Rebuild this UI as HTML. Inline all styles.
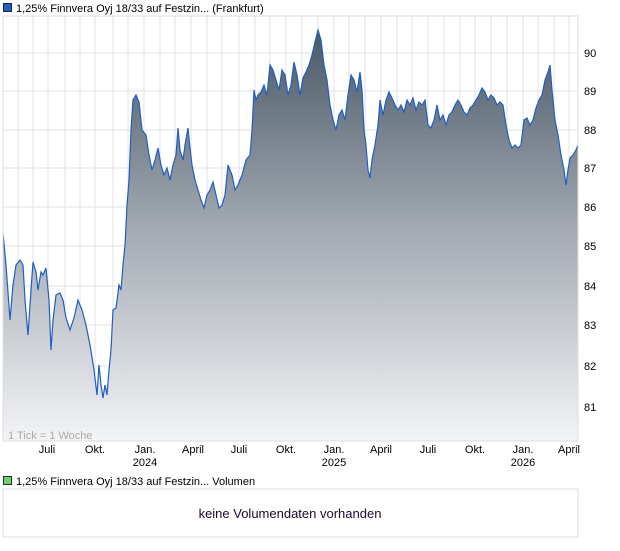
<!DOCTYPE html>
<html><head><meta charset="utf-8"><style>
body{margin:0;background:#fff;width:620px;height:546px;overflow:hidden;font-family:"Liberation Sans",sans-serif}
</style></head><body>
<svg width="620" height="546" xmlns="http://www.w3.org/2000/svg" font-family="Liberation Sans, sans-serif">
<defs>
<linearGradient id="g" gradientUnits="userSpaceOnUse" x1="0" y1="20" x2="0" y2="441">
<stop offset="0" stop-color="#455563"/>
<stop offset="0.5" stop-color="#a3aab2"/>
<stop offset="1" stop-color="#f3f4f6"/>
</linearGradient>
</defs>
<rect x="3" y="16" width="575" height="425" fill="#fff" stroke="#ddd"/>
<g stroke="#e0e0e0" stroke-width="1">
<line x1="3" x2="578" y1="53" y2="53"/><line x1="3" x2="578" y1="91" y2="91"/><line x1="3" x2="578" y1="130" y2="130"/><line x1="3" x2="578" y1="168" y2="168"/><line x1="3" x2="578" y1="207" y2="207"/><line x1="3" x2="578" y1="246" y2="246"/><line x1="3" x2="578" y1="286" y2="286"/><line x1="3" x2="578" y1="325" y2="325"/><line x1="3" x2="578" y1="366" y2="366"/><line x1="3" x2="578" y1="407" y2="407"/>
<line x1="18" x2="18" y1="16" y2="441"/><line x1="33" x2="33" y1="16" y2="441"/><line x1="48" x2="48" y1="16" y2="441"/><line x1="65" x2="65" y1="16" y2="441"/><line x1="80" x2="80" y1="16" y2="441"/><line x1="95" x2="95" y1="16" y2="441"/><line x1="113" x2="113" y1="16" y2="441"/><line x1="128" x2="128" y1="16" y2="441"/><line x1="144" x2="144" y1="16" y2="441"/><line x1="160" x2="160" y1="16" y2="441"/><line x1="175" x2="175" y1="16" y2="441"/><line x1="191" x2="191" y1="16" y2="441"/><line x1="207" x2="207" y1="16" y2="441"/><line x1="222" x2="222" y1="16" y2="441"/><line x1="239" x2="239" y1="16" y2="441"/><line x1="255" x2="255" y1="16" y2="441"/><line x1="270" x2="270" y1="16" y2="441"/><line x1="286" x2="286" y1="16" y2="441"/><line x1="302" x2="302" y1="16" y2="441"/><line x1="318" x2="318" y1="16" y2="441"/><line x1="334" x2="334" y1="16" y2="441"/><line x1="349" x2="349" y1="16" y2="441"/><line x1="365" x2="365" y1="16" y2="441"/><line x1="381" x2="381" y1="16" y2="441"/><line x1="397" x2="397" y1="16" y2="441"/><line x1="412" x2="412" y1="16" y2="441"/><line x1="428" x2="428" y1="16" y2="441"/><line x1="444" x2="444" y1="16" y2="441"/><line x1="460" x2="460" y1="16" y2="441"/><line x1="475" x2="475" y1="16" y2="441"/><line x1="491" x2="491" y1="16" y2="441"/><line x1="507" x2="507" y1="16" y2="441"/><line x1="523" x2="523" y1="16" y2="441"/><line x1="538" x2="538" y1="16" y2="441"/><line x1="554" x2="554" y1="16" y2="441"/><line x1="569" x2="569" y1="16" y2="441"/>
</g>
<path id="p" d="M3,233 L6,265 L10,320 L13,285 L16,265 L20,260 L23,265 L25,300 L28,335 L31,290 L33,262 L36,272 L38,290 L41,272 L43,275 L46,268 L49,300 L51,350 L53,320 L56,295 L60,293 L63,300 L66,318 L70,330 L74,318 L78,300 L82,310 L86,325 L90,345 L94,370 L97,395 L99,365 L101,385 L103,398 L105,385 L107,395 L109,370 L111,350 L113,310 L116,308 L119,285 L121,290 L123,265 L125,245 L127,205 L129,180 L131,130 L133,100 L136,95 L139,102 L142,130 L146,135 L149,155 L152,170 L155,160 L158,148 L161,165 L164,175 L167,168 L170,180 L173,165 L176,155 L178,128 L180,150 L183,160 L185,145 L188,128 L190,148 L192,165 L195,180 L198,190 L201,200 L204,208 L207,195 L210,190 L213,182 L216,195 L219,208 L222,205 L225,195 L228,165 L232,175 L235,190 L238,185 L242,175 L246,160 L250,155 L252,130 L254,90 L256,100 L258,95 L261,92 L264,85 L267,95 L270,65 L273,70 L276,80 L279,90 L282,70 L285,75 L288,95 L291,85 L294,62 L297,75 L300,95 L303,78 L306,72 L309,65 L312,55 L315,42 L318,30 L321,40 L324,65 L327,80 L330,105 L333,120 L336,130 L339,115 L342,110 L345,120 L348,95 L351,75 L354,80 L357,92 L360,72 L362,90 L364,130 L366,145 L368,170 L370,178 L372,160 L375,145 L378,125 L380,100 L383,115 L386,100 L389,92 L392,98 L395,105 L398,110 L401,105 L404,112 L407,100 L410,105 L413,98 L416,110 L419,102 L422,105 L425,100 L428,125 L431,128 L434,120 L437,105 L440,120 L443,115 L446,125 L449,115 L452,112 L455,105 L458,100 L461,105 L464,112 L467,115 L470,108 L473,105 L476,100 L479,95 L482,88 L485,92 L488,100 L491,95 L494,98 L497,105 L500,102 L503,105 L506,125 L509,140 L512,148 L515,145 L518,148 L521,145 L524,120 L527,118 L530,125 L533,120 L536,108 L539,100 L542,95 L545,80 L548,72 L550,65 L552,90 L555,120 L558,135 L561,155 L564,170 L566,185 L568,170 L570,158 L573,155 L576,150 L578,145" fill="none"/>
<path d="M3,233 L6,265 L10,320 L13,285 L16,265 L20,260 L23,265 L25,300 L28,335 L31,290 L33,262 L36,272 L38,290 L41,272 L43,275 L46,268 L49,300 L51,350 L53,320 L56,295 L60,293 L63,300 L66,318 L70,330 L74,318 L78,300 L82,310 L86,325 L90,345 L94,370 L97,395 L99,365 L101,385 L103,398 L105,385 L107,395 L109,370 L111,350 L113,310 L116,308 L119,285 L121,290 L123,265 L125,245 L127,205 L129,180 L131,130 L133,100 L136,95 L139,102 L142,130 L146,135 L149,155 L152,170 L155,160 L158,148 L161,165 L164,175 L167,168 L170,180 L173,165 L176,155 L178,128 L180,150 L183,160 L185,145 L188,128 L190,148 L192,165 L195,180 L198,190 L201,200 L204,208 L207,195 L210,190 L213,182 L216,195 L219,208 L222,205 L225,195 L228,165 L232,175 L235,190 L238,185 L242,175 L246,160 L250,155 L252,130 L254,90 L256,100 L258,95 L261,92 L264,85 L267,95 L270,65 L273,70 L276,80 L279,90 L282,70 L285,75 L288,95 L291,85 L294,62 L297,75 L300,95 L303,78 L306,72 L309,65 L312,55 L315,42 L318,30 L321,40 L324,65 L327,80 L330,105 L333,120 L336,130 L339,115 L342,110 L345,120 L348,95 L351,75 L354,80 L357,92 L360,72 L362,90 L364,130 L366,145 L368,170 L370,178 L372,160 L375,145 L378,125 L380,100 L383,115 L386,100 L389,92 L392,98 L395,105 L398,110 L401,105 L404,112 L407,100 L410,105 L413,98 L416,110 L419,102 L422,105 L425,100 L428,125 L431,128 L434,120 L437,105 L440,120 L443,115 L446,125 L449,115 L452,112 L455,105 L458,100 L461,105 L464,112 L467,115 L470,108 L473,105 L476,100 L479,95 L482,88 L485,92 L488,100 L491,95 L494,98 L497,105 L500,102 L503,105 L506,125 L509,140 L512,148 L515,145 L518,148 L521,145 L524,120 L527,118 L530,125 L533,120 L536,108 L539,100 L542,95 L545,80 L548,72 L550,65 L552,90 L555,120 L558,135 L561,155 L564,170 L566,185 L568,170 L570,158 L573,155 L576,150 L578,145 L578,441 L3,441 Z" fill="url(#g)"/>
<use href="#p" stroke="#1f5ec4" stroke-width="1.2"/>
<rect x="3" y="16" width="575" height="425" fill="none" stroke="#ddd"/>
<text x="8" y="439" font-size="11" fill="#aaa">1 Tick = 1 Woche</text>
<g font-size="11" fill="#000">
<text x="584" y="57">90</text><text x="584" y="95">89</text><text x="584" y="134">88</text><text x="584" y="172">87</text><text x="584" y="211">86</text><text x="584" y="250">85</text><text x="584" y="290">84</text><text x="584" y="329">83</text><text x="584" y="370">82</text><text x="584" y="411">81</text>
</g>
<g font-size="11" fill="#000" text-anchor="middle">
<text x="47" y="453">Juli</text><text x="95" y="453">Okt.</text><text x="145" y="453">Jan.</text><text x="145" y="466">2024</text><text x="193" y="453">April</text><text x="239" y="453">Juli</text><text x="286" y="453">Okt.</text><text x="334" y="453">Jan.</text><text x="334" y="466">2025</text><text x="381" y="453">April</text><text x="428" y="453">Juli</text><text x="475" y="453">Okt.</text><text x="523" y="453">Jan.</text><text x="523" y="466">2026</text><text x="569" y="453">April</text>
</g>
<rect x="3.5" y="3.5" width="8" height="8" fill="#1f5ec4" stroke="#000" stroke-width="0.8"/>
<text x="16" y="12" font-size="11">1,25% Finnvera Oyj 18/33 auf Festzin... (Frankfurt)</text>
<rect x="3.5" y="476.5" width="8" height="8" fill="#6ed36e" stroke="#000" stroke-width="0.8"/>
<text x="16" y="485" font-size="11">1,25% Finnvera Oyj 18/33 auf Festzin... Volumen</text>
<rect x="3" y="489" width="575" height="48" fill="#fff" stroke="#ddd"/>
<text x="290" y="518" font-size="13" text-anchor="middle" fill="#1a0a2a">keine Volumendaten vorhanden</text>
</svg>
</body></html>
